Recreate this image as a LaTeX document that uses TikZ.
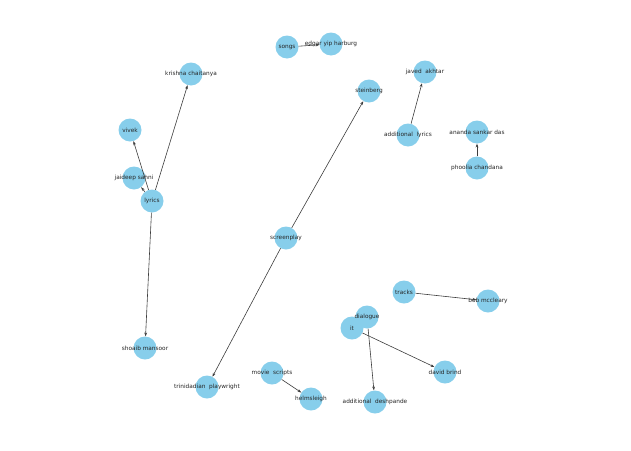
\documentclass[tikz,border=0pt]{standalone}
\usepackage{fontspec}
\setmainfont{DejaVu Sans}
\usetikzlibrary{arrows.meta}
\definecolor{nodeblue}{RGB}{135,206,235}
\definecolor{edgegray}{RGB}{60,60,60}
\begin{document}
\begin{tikzpicture}[x=1pt,y=-1pt,
  vtx/.style={circle,fill=nodeblue,draw=none,minimum size=23pt,inner sep=0pt},
  lbl/.style={inner sep=0pt,font=\fontsize{5.8}{6}\selectfont,text=black!85},
  edge/.style={draw=edgegray,line width=0.6pt,-{Stealth[length=3.8pt,width=2.8pt]}}]
\useasboundingbox (0,0) rectangle (631,450);
\foreach \n/\x/\y/\t in {
  songs/287/47/songs,
  edgar/331/44/edgar yip harburg,
  krishna/191/74/krishna chaitanya,
  steinberg/369/91/steinberg,
  javed/425/72/javed\ \ akhtar,
  vivek/130/130/vivek,
  addlyrics/408/135/additional\ \ lyrics,
  ananda/477/132/ananda sankar das,
  phoolia/477/168/phoolia chandana,
  jaideep/134/178/jaideep sahni,
  lyrics/152/201/lyrics,
  screenplay/286/238/screenplay,
  tracks/404/292/tracks,
  bob/488/301/bob mccleary,
  dialogue/367/317/dialogue,
  it/352/328/it,
  shoaib/145/348/shoaib mansoor,
  movie/272/373/movie\ \ scripts,
  david/445/372/david brind,
  trini/207/387/trinidadian\ \ playwright,
  helm/311/399/helmsleigh,
  adddesh/375/402/additional\ \ deshpande}
{\node[vtx] (\n) at (\x,\y) {};}
\foreach \n/\x/\y/\t in {
  songs/287/47/songs,
  edgar/331/44/edgar yip harburg,
  krishna/191/74/krishna chaitanya,
  steinberg/369/91/steinberg,
  javed/425/72/javed\ \ akhtar,
  vivek/130/130/vivek,
  addlyrics/408/135/additional\ \ lyrics,
  ananda/477/132/ananda sankar das,
  phoolia/477/168/phoolia chandana,
  jaideep/134/178/jaideep sahni,
  lyrics/152/201/lyrics,
  screenplay/286/238/screenplay,
  tracks/404/292/tracks,
  bob/488/301/bob mccleary,
  dialogue/367/317/dialogue,
  it/352/328/it,
  shoaib/145/348/shoaib mansoor,
  movie/272/373/movie\ \ scripts,
  david/445/372/david brind,
  trini/207/387/trinidadian\ \ playwright,
  helm/311/399/helmsleigh,
  adddesh/375/402/additional\ \ deshpande}
{\node[lbl] (l-\n) at (\x,\y) {\t};}
\draw[edge] (songs) -- (edgar);
\draw[edge] (lyrics) -- (krishna);
\draw[edge] (lyrics) -- (vivek);
\draw[edge] (lyrics) -- (jaideep);
\draw[edge] (lyrics) -- (shoaib);
\draw[edge] (screenplay) -- (steinberg);
\draw[edge] (screenplay) -- (trini);
\draw[edge] (addlyrics) -- (javed);
\draw[edge] (phoolia) -- (ananda);
\draw[edge] (tracks) -- (bob);
\draw[edge] (movie) -- (helm);
\draw[edge] (it) -- (david);
\draw[edge] (dialogue) -- (adddesh);
\end{tikzpicture}
\end{document}
